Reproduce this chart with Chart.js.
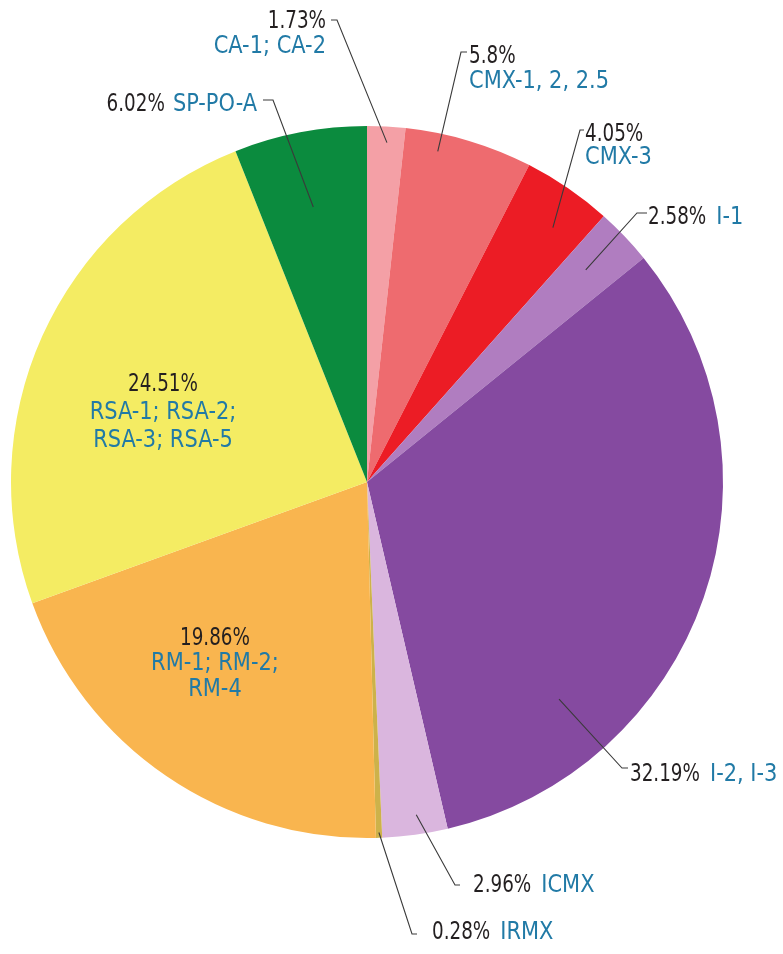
<!DOCTYPE html>
<html>
<head>
<meta charset="utf-8">
<title>Zoning share</title>
<script src="https://cdn.jsdelivr.net/npm/chart.js@4/dist/chart.umd.min.js"></script>
<style>
  html, body { margin: 0; padding: 0; background: #fff; }
  #pie { display: block; }
</style>
</head>
<body>
<canvas id="pie" width="783" height="954"></canvas>
<script>
/************ DATA ************/
const zones = [
    ["CA-1; CA-2"],
    ["CMX-1, 2, 2.5"],
    ["CMX-3"],
    ["I-1"],
    ["I-2, I-3"],
    ["ICMX"],
    ["IRMX"],
    ["RM-1; RM-2;", "RM-4"],
    ["RSA-1; RSA-2;", "RSA-3; RSA-5"],
    ["SP-PO-A"]
];
const shares = [1.73, 5.8, 4.05, 2.58, 32.19, 2.96, 0.28, 19.86, 24.51, 6.02];
const sliceColors = [
    "#f4a0a6", "#ee6b6f", "#ec1c25", "#b07dc0", "#854aa0",
    "#dab6de", "#cdb24a", "#f9b54f", "#f4ec63", "#0b8b3e"
];

/************ STYLE ************/
const FONT = "24px 'Liberation Sans Narrow', 'DejaVu Sans Condensed', sans-serif";
const PCT_COLOR = "#231f20";
const NAME_COLOR = "#217aa6";
const LINE_COLOR = "#3a3a3a";
// the source font is narrower than anything installed, squeeze it a bit
const PCT_SQUEEZE = 0.85;
const NAME_SQUEEZE = 0.97;

// where each callout sits: t/r = anchor inside the slice (fraction of angle / radius)
const callouts = [
    { t: 0.54, r: 0.955, elbow: [337, 20], hook: [331, 20], mode: "stackRight", x: 326, y: [22, 47] },
    { t: 0.28, r: 0.95, elbow: [461, 52], hook: [467, 52], mode: "stackLeft", x: 469, y: [57, 82] },
    { t: 0.62, r: 0.885, elbow: [580, 130], hook: [584, 130], mode: "stackLeft", x: 585, y: [135, 158] },
    { t: 0.45, r: 0.856, elbow: [637, 213], hook: [647, 213], mode: "inlineLeft", x: 648, y: [218] },
    { t: 0.755, r: 0.814, elbow: [622, 768], hook: [628, 768], mode: "inlineLeft", x: 630, y: [775] },
    { t: 0.44, r: 0.945, elbow: [455, 885], hook: [460, 885], mode: "inlineLeft", x: 473, y: [886] },
    { t: 0.5, r: 0.985, elbow: [412, 934], hook: [417, 934], mode: "inlineLeft", x: 432, y: [933] },
    { mode: "center", x: 215, y: [639, 664, 690] },
    { mode: "center", x: 163, y: [385, 413, 441] },
    { t: 0.49, r: 0.787, elbow: [273, 100], hook: [263, 100], mode: "inlineRight", x: 257, y: [105] }
];

/************ TEXT HELPERS ************/
function textWidth(ctx, s, sx) {
    return ctx.measureText(s).width * sx;
}

function drawText(ctx, s, x, y, align, sx, color) {
    ctx.save();
    ctx.translate(x, y);
    ctx.scale(sx, 1);
    ctx.textAlign = align;
    ctx.fillStyle = color;
    ctx.fillText(s, 0, 0);
    ctx.restore();
}

/************ CALLOUT PLUGIN ************/
const calloutPlugin = {
    id: "callouts",
    afterDatasetsDraw(chart) {
        const ctx = chart.ctx;
        const arcs = chart.getDatasetMeta(0).data;
        ctx.save();
        ctx.font = FONT;
        ctx.textBaseline = "middle";

        arcs.forEach((arc, i) => {
            const c = callouts[i];
            const pct = shares[i] + "%";
            const names = zones[i];

            if (c.elbow) {
                const p = arc.getProps(["x", "y", "startAngle", "endAngle", "outerRadius"], true);
                const a = p.startAngle + c.t * (p.endAngle - p.startAngle);
                const ax = p.x + Math.cos(a) * p.outerRadius * c.r;
                const ay = p.y + Math.sin(a) * p.outerRadius * c.r;
                ctx.beginPath();
                ctx.strokeStyle = LINE_COLOR;
                ctx.lineWidth = 1.1;
                ctx.moveTo(ax, ay);
                ctx.lineTo(c.elbow[0], c.elbow[1]);
                ctx.lineTo(c.hook[0], c.hook[1]);
                ctx.stroke();
            }

            if (c.mode === "stackLeft" || c.mode === "stackRight" || c.mode === "center") {
                const align = c.mode === "stackLeft" ? "left" : c.mode === "stackRight" ? "right" : "center";
                drawText(ctx, pct, c.x, c.y[0], align, PCT_SQUEEZE, PCT_COLOR);
                names.forEach((n, k) => drawText(ctx, n, c.x, c.y[k + 1], align, NAME_SQUEEZE, NAME_COLOR));
            } else if (c.mode === "inlineLeft") {
                drawText(ctx, pct, c.x, c.y[0], "left", PCT_SQUEEZE, PCT_COLOR);
                const nx = c.x + textWidth(ctx, pct, PCT_SQUEEZE) + 10;
                drawText(ctx, names[0], nx, c.y[0], "left", NAME_SQUEEZE, NAME_COLOR);
            } else if (c.mode === "inlineRight") {
                drawText(ctx, names[0], c.x, c.y[0], "right", NAME_SQUEEZE, NAME_COLOR);
                const px = c.x - textWidth(ctx, names[0], NAME_SQUEEZE) - 8;
                drawText(ctx, pct, px, c.y[0], "right", PCT_SQUEEZE, PCT_COLOR);
            }
        });
        ctx.restore();
    }
};

/************ CHART ************/
new Chart(document.getElementById("pie"), {
    type: "pie",
    data: {
        labels: zones.map(z => z.join(" ")),
        datasets: [{
            data: shares,
            backgroundColor: sliceColors,
            borderWidth: 0
        }]
    },
    options: {
        responsive: false,
        animation: false,
        layout: { padding: { left: 11, right: 60, top: 126, bottom: 116 } },
        plugins: {
            legend: { display: false },
            tooltip: { enabled: false }
        }
    },
    plugins: [calloutPlugin]
});
</script>
</body>
</html>
